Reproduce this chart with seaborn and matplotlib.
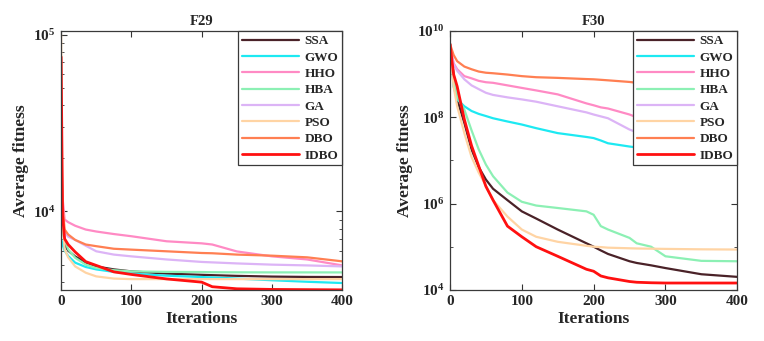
import numpy as np
import pandas as pd
import matplotlib
matplotlib.use("Agg")
import matplotlib.pyplot as plt
import seaborn as sns
from matplotlib.ticker import FixedLocator, FuncFormatter, LogLocator, NullFormatter

# algorithms and colours
names = ['SSA', 'GWO', 'HHO', 'HBA', 'GA', 'PSO', 'DBO', 'IDBO']
colors = ['#4a2228', '#1de9f2', '#ff8ac4', '#8cf0b4', '#dcb4f6', '#ffd4a4', '#ff7f52', '#ff1010']

# F29 curves
it29 = [0, 2, 5, 10, 20, 35, 50, 75, 100, 150, 200, 215, 250, 300, 350, 400]
ssa29 = [25000, 9000, 6500, 6000, 5560, 5150, 4886, 4700, 4580, 4450, 4380, 4360, 4320, 4280, 4260, 4254]
gwo29 = [7000, 6500, 6000, 5600, 5130, 4850, 4700, 4550, 4450, 4330, 4254, 4230, 4170, 4080, 4000, 3935]
hho29 = [30000, 12000, 9000, 8700, 8300, 7900, 7700, 7450, 7240, 6780, 6600, 6500, 5940, 5570, 5350, 4950]
hba29 = [15000, 8000, 6930, 6100, 5470, 5000, 4790, 4650, 4580, 4550, 4540, 4530, 4525, 4520, 4520, 4518]
ga29 = [20000, 9500, 7600, 7200, 6900, 6400, 5950, 5700, 5570, 5350, 5180, 5150, 5080, 5000, 4950, 4886]
pso29 = [100000, 9000, 6100, 5500, 4886, 4500, 4290, 4170, 4140, 4140, 4140, 4140, 4140, 4140, 4140, 4140]
dbo29 = [25000, 11000, 7900, 7410, 6900, 6500, 6360, 6150, 6080, 5950, 5820, 5800, 5700, 5620, 5500, 5220]
idbo29 = [75000, 9500, 7000, 6500, 5900, 5200, 4950, 4550, 4400, 4150, 3980, 3750, 3650, 3620, 3610, 3600]

# F30 curves
it30 = [0, 5, 10, 20, 30, 40, 50, 60, 80, 100, 120, 150, 190, 200, 210, 220, 250, 260, 280, 300, 350, 400]
ssa30 = [5e9, 1e9, 2.6e8, 7.4e7, 1.8e7, 7e6, 3.6e6, 2.2e6, 1.2e6, 6.6e5, 4.5e5, 2.5e5, 1.2e5, 1e5,
         8.2e4, 6.8e4, 4.6e4, 4.2e4, 3.7e4, 3.2e4, 2.3e4, 2e4]
gwo30 = [5e9, 5.2e8, 2.6e8, 1.8e8, 1.4e8, 1.2e8, 1.07e8, 9.5e7, 8e7, 6.8e7, 5.6e7, 4.3e7, 3.5e7, 3.3e7,
         2.9e7, 2.5e7, 2.1e7, 2e7, 1.6e7, 1.3e7, 1e7, 8e6]
hho30 = [5e9, 1.8e9, 1.3e9, 9e8, 8e8, 7e8, 6.5e8, 6.3e8, 5.5e8, 4.8e8, 4.2e8, 3.4e8, 2.1e8, 1.9e8,
         1.7e8, 1.6e8, 1.16e8, 1e8, 7e7, 5e7, 2.5e7, 1.4e7]
hba30 = [5e9, 8e8, 3e8, 1.5e8, 5e7, 1.8e7, 8e6, 4.3e6, 1.8e6, 1.1e6, 9e5, 7.9e5, 6.6e5, 5.5e5,
         3e5, 2.5e5, 1.6e5, 1.2e5, 1e5, 6e4, 4.7e4, 4.6e4]
ga30 = [5e9, 1.7e9, 1.2e9, 7.6e8, 5.5e8, 4.5e8, 3.7e8, 3.3e8, 2.9e8, 2.6e8, 2.3e8, 1.8e8, 1.3e8, 1.16e8,
        1.05e8, 9.5e7, 5.2e7, 4.5e7, 3.5e7, 2.8e7, 2e7, 1.5e7]
pso30 = [4e9, 5.2e8, 1.8e8, 4.3e7, 1.2e7, 5.2e6, 2.6e6, 1.2e6, 5e5, 2.5e5, 1.7e5, 1.3e5, 1.05e5, 1e5,
         9.8e4, 9.5e4, 9.2e4, 9.1e4, 9e4, 8.9e4, 8.7e4, 8.6e4]
dbo30 = [5e9, 2.8e9, 2e9, 1.5e9, 1.3e9, 1.15e9, 1.08e9, 1.05e9, 9.8e8, 9e8, 8.5e8, 8.2e8, 7.7e8, 7.6e8,
         7.4e8, 7.2e8, 6.6e8, 6.3e8, 5.5e8, 4.5e8, 2.8e8, 1.8e8]
idbo30 = [5e9, 1e9, 5.2e8, 8.9e7, 2.2e7, 7.4e6, 2.5e6, 1.2e6, 3e5, 1.7e5, 1e5, 6e4, 3e4, 2.7e4,
          2.1e4, 1.9e4, 1.56e4, 1.5e4, 1.46e4, 1.44e4, 1.44e4, 1.44e4]

f29 = [ssa29, gwo29, hho29, hba29, ga29, pso29, dbo29, idbo29]
f30 = [ssa30, gwo30, hho30, hba30, ga30, pso30, dbo30, idbo30]

sns.set_theme(style="white")
plt.rcParams['font.family'] = ['Liberation Serif', 'DejaVu Serif']
plt.rcParams['font.weight'] = 'bold'
plt.rcParams['mathtext.fontset'] = 'custom'
plt.rcParams['mathtext.bf'] = 'Liberation Serif:bold'
plt.rcParams['mathtext.rm'] = 'Liberation Serif:bold'
plt.rcParams['text.color'] = '#262626'

fig = plt.figure(figsize=(7.64, 3.41), dpi=100)
ax1 = fig.add_axes([0.080, 0.150, 0.368, 0.759])
ax2 = fig.add_axes([0.589, 0.150, 0.376, 0.759])


def powfmt(v, pos):
    return r'$\mathbf{10^{%d}}$' % int(round(np.log10(v)))


panels = [(ax1, it29, f29, 'F29', (3600, 1.05e5)), (ax2, it30, f30, 'F30', (1e4, 1e10))]
for ax, its, series, title, ylim in panels:
    for name, col, vals in zip(names, colors, series):
        df = pd.DataFrame({'it': its, 'val': vals})
        sns.lineplot(data=df, x='it', y='val', ax=ax, color=col, lw=2 if name == 'IDBO' else 1.6,
                     label=name, legend=False)
    ax.set_yscale('log')
    ax.set_xlim(0, 400)
    ax.set_ylim(*ylim)
    ax.set_xticks([0, 100, 200, 300, 400])
    ax.set_title(title, fontsize=10.5, fontweight='bold', pad=4)
    ax.set_xlabel('Iterations', fontsize=12.5, fontweight='bold', labelpad=2)
    ax.set_ylabel('Average fitness', fontsize=12.5, fontweight='bold', labelpad=3)
    ax.tick_params(axis='both', which='both', direction='in', left=True, bottom=True,
                   top=True, right=True, labelsize=11, pad=4, colors='#333333', labelcolor='#262626')
    ax.tick_params(which='major', length=4, width=0.8)
    ax.tick_params(which='minor', length=2, width=0.6)
    for s in ax.spines.values():
        s.set_color('#3a3a3a')
        s.set_linewidth(0.9)
    ax.yaxis.set_major_formatter(FuncFormatter(powfmt))
    leg = ax.legend(loc='upper right', borderaxespad=0, fontsize=9.5, handlelength=4.3,
                    labelspacing=0.31, frameon=True, fancybox=False, framealpha=1,
                    edgecolor='#3a3a3a', borderpad=0.3, handletextpad=0.45)
    leg.get_frame().set_linewidth(0.9)
    for t in leg.get_texts():
        t.set_fontweight('bold')

ax1.yaxis.set_minor_locator(LogLocator(base=10, subs=np.arange(2, 10)))
ax1.yaxis.set_minor_formatter(NullFormatter())
ax2.yaxis.set_major_locator(FixedLocator([1e4, 1e6, 1e8, 1e10]))
ax2.yaxis.set_minor_locator(FixedLocator([1e5, 1e7, 1e9]))
ax2.yaxis.set_minor_formatter(NullFormatter())

fig.savefig('out.png', dpi=100)
